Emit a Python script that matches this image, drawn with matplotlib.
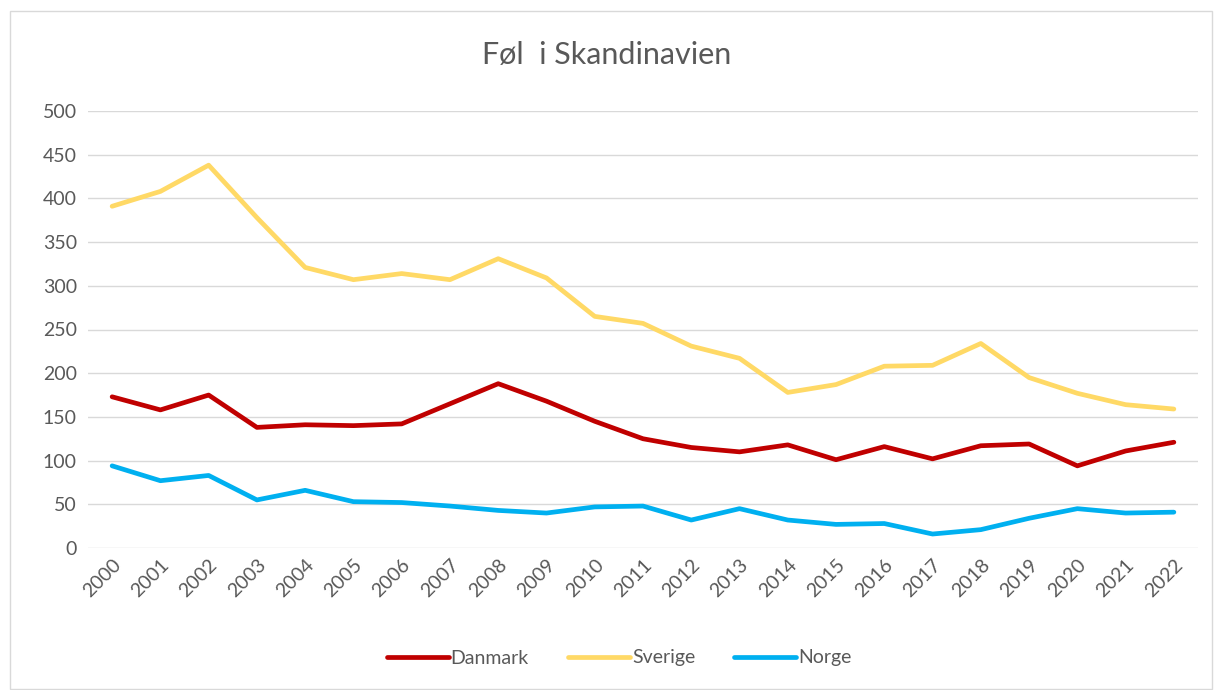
import matplotlib
matplotlib.use("Agg")
import matplotlib.pyplot as plt
from matplotlib.patches import Rectangle

plt.rcParams['font.family'] = ['Lato', 'DejaVu Sans']

years = [str(y) for y in range(2000, 2023)]
danmark = [173, 158, 175, 138, 141, 140, 142, 165, 188, 168, 145, 125, 115,
           110, 118, 101, 116, 102, 117, 119, 94, 111, 121]
sverige = [391, 408, 438, 378, 321, 307, 314, 307, 331, 309, 265, 257, 231,
           217, 178, 187, 208, 209, 234, 195, 177, 164, 159]
norge = [94, 77, 83, 55, 66, 53, 52, 48, 43, 40, 47, 48, 32,
         45, 32, 27, 28, 16, 21, 34, 45, 40, 41]

txt = '#595959'
fig = plt.figure(figsize=(12.14, 6.9), dpi=100)
fig.patches.append(Rectangle((10/1214, 0.002), 1 - 12/1214, 1 - 12/690,
                             transform=fig.transFigure, fill=False,
                             edgecolor='#d9d9d9', lw=1))
ax = fig.add_axes([88/1214, 1 - 548/690, 1110/1214, 437/690])

x = range(len(years))
ax.plot(x, danmark, color='#c00000', lw=3.4, label='Danmark', solid_capstyle='round')
ax.plot(x, sverige, color='#ffd966', lw=3.4, label='Sverige', solid_capstyle='round')
ax.plot(x, norge, color='#00b0f0', lw=3.4, label='Norge', solid_capstyle='round')

ax.set_xlim(-0.5, len(years) - 0.5)
ax.set_ylim(0, 500)
ax.set_yticks(range(0, 501, 50))
ax.set_xticks(list(x))
ax.set_xticklabels(years, rotation=45, ha='right', rotation_mode='anchor')
ax.grid(axis='y', color='#d9d9d9', lw=1)
ax.set_axisbelow(True)
for s in ax.spines.values():
    s.set_visible(False)
ax.tick_params(length=0, labelsize=14, colors=txt, pad=8)
ax.tick_params(axis='x', pad=6)

fig.text(0.5, 1 - 55/690, 'Føl  i Skandinavien', ha='center', va='center',
         fontsize=22, color=txt)
fig.legend(loc='center', bbox_to_anchor=(0.51, 1 - 658/690), ncol=3,
           frameon=False, fontsize=14, labelcolor=txt, handlelength=3.2,
           handletextpad=0.1, columnspacing=2)

fig.savefig('out.png', dpi=100)
